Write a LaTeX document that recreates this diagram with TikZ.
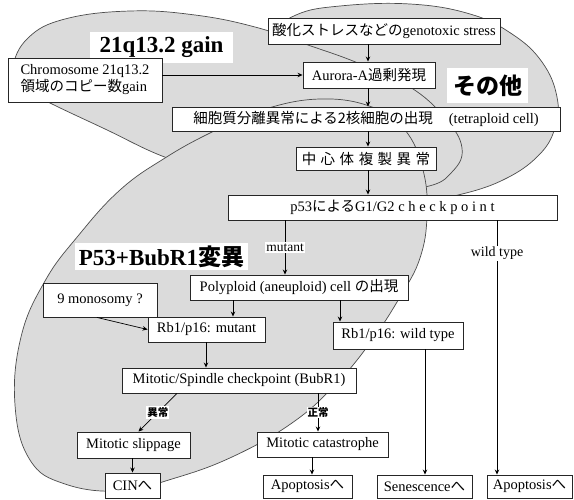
\documentclass[tikz,border=0pt]{standalone}
\usepackage{fontspec}
\setmainfont{Liberation Serif}
\newfontfamily\jp{Noto Sans CJK JP}
\usetikzlibrary{arrows.meta}
\begin{document}
\begin{tikzpicture}[x=1pt,y=-1pt,
  box/.style={draw=black!85, line width=0.9pt, fill=white, inner sep=0pt, font=\fontsize{14.5}{17}\selectfont},
  ell/.style={fill=black!14, draw=black!70, line width=0.7pt},
  arr/.style={-{Stealth[length=5pt,width=4.5pt]}, line width=0.7pt},
  lab/.style={fill=white, inner sep=1.5pt},
  big/.style={fill=white, inner sep=0pt, font=\fontsize{23}{26}\selectfont\bfseries}
]
\useasboundingbox (0,0) rectangle (574,500);
% ellipses
\filldraw[ell] plot[smooth cycle, tension=0.7] coordinates {(262,72) (272,36) (296,15) (340,6) (410,4) (470,14) (512,34) (542,62) (557,97) (555,128) (538,156) (503,180) (458,195) (420,200) (350,186) (292,140)};
\filldraw[ell] plot[smooth cycle, tension=0.7] coordinates {(13,68) (28,38) (65,19) (130,11) (195,15) (255,27) (305,44) (358,63) (410,87) (445,118) (462,148) (452,172) (425,187) (360,193) (280,183) (210,170) (162,156) (105,129) (52,104) (22,88)};
\filldraw[ell] plot[smooth cycle, tension=0.7] coordinates {(320,99) (372,107) (405,130) (423,170) (427,215) (420,258) (400,297) (370,343) (335,385) (292,423) (232,457) (172,479) (120,491) (65,484) (30,460) (15,405) (21,337) (45,281) (78,236) (120,190) (165,158) (212,132) (262,110)};
% region labels
\node[big, minimum width=143, minimum height=31] (lq) at (161.5,47.5) {21q13.2 gain};
\node[big, minimum width=81, minimum height=35] (lo) at (487.5,85.5) {\jp\bfseries その他};
\node[big, minimum width=173, minimum height=27] (lp) at (161.5,256.5) {P53+BubR1{\jp\bfseries 変異}};
% boxes
\node[box, minimum width=232, minimum height=26] (gen) at (384,31) {{\jp 酸化ストレスなどの}genotoxic stress};
\node[box, minimum width=132, minimum height=26] (aur) at (369,75) {Aurora-A{\jp 過剰発現}};
\node[box, minimum width=154, minimum height=44, align=left] (chr) at (85,80) {Chromosome 21q13.2\\{\jp 領域のコピー数}gain};
\node[box, minimum width=388, minimum height=24] (cyt) at (366,119) {{\jp 細胞質分離異常による2核細胞の出現}\hspace{16pt}(tetraploid cell)};
\node[box, minimum width=140, minimum height=23] (cen) at (366,158.5) {\jp 中\hspace{4.5pt}心\hspace{4.5pt}体\hspace{4.5pt}複\hspace{4.5pt}製\hspace{4.5pt}異\hspace{4.5pt}常};
\node[box, minimum width=329, minimum height=25] (p53) at (392.5,207.5) {p53{\jp による}G1/G2 c h e c k p o i n t};
\node[box, minimum width=218, minimum height=25] (pol) at (299,287.5) {Polyploid (aneuploid) cell {\jp の出現}};
\node[box, minimum width=114, minimum height=34] (mono) at (100,300) {9 monosomy ?};
\node[box, minimum width=117, minimum height=25] (rbm) at (206.5,329.5) {Rb1/p16: mutant};
\node[box, minimum width=130, minimum height=27] (rbw) at (398,335.5) {Rb1/p16: wild type};
\node[box, minimum width=234, minimum height=25] (bub) at (239,380.5) {Mitotic/Spindle checkpoint (BubR1)};
\node[box, minimum width=113, minimum height=26] (slip) at (133.5,445) {Mitotic slippage};
\node[box, minimum width=131, minimum height=25] (cat) at (322.5,444.5) {Mitotic catastrophe};
\node[box, minimum width=55, minimum height=25] (cin) at (132.5,485.5) {CIN{\jp へ}};
\node[box, minimum width=89, minimum height=23] (apo1) at (307.5,486.5) {Apoptosis{\jp へ}};
\node[box, minimum width=95, minimum height=23] (sen) at (424.5,486.5) {Senescence{\jp へ}};
\node[box, minimum width=85, minimum height=23] (apo2) at (529.5,486.5) {Apoptosis{\jp へ}};
% x positions of connectors
\coordinate (xa) at (368,0);
\coordinate (xm) at (285,0);
\coordinate (xw) at (497,0);
\coordinate (xpm) at (233,0);
\coordinate (xpw) at (340,0);
\coordinate (xr) at (206,0);
\coordinate (xs) at (425,0);
\coordinate (xc) at (318,0);
\coordinate (xap) at (312,0);
% connectors
\draw[arr] (xa |- gen.south) -- (xa |- aur.north);
\draw[arr] (chr.east |- aur.west) -- (aur.west);
\draw[arr] (xa |- aur.south) -- (xa |- cyt.north);
\draw[arr] (xa |- cyt.south) -- (xa |- cen.north);
\draw[arr] (xa |- cen.south) -- (xa |- p53.north);
\draw[arr] (xm |- p53.south) -- node[lab, font=\fontsize{13.5}{15}\selectfont] {mutant} (xm |- pol.north);
\draw[arr] (xw |- p53.south) -- node[lab, pos=0.13, font=\fontsize{14}{16}\selectfont] {wild type} (xw |- apo2.north);
\draw[arr] (xpm |- pol.south) -- (xpm |- rbm.north);
\draw[arr] (xpw |- pol.south) -- (xpw |- rbw.north);
\draw[arr] ([xshift=-3pt]mono.south) -- (rbm.west);
\draw[arr] (xr |- rbm.south) -- (xr |- bub.north);
\draw[arr] (xs |- rbw.south) -- (xs |- sen.north);
\draw[arr] ([xshift=-62pt]bub.south) -- node[lab, inner sep=1pt, font=\fontsize{10.5}{12}\selectfont\jp\bfseries] {異常} ([xshift=5pt]slip.north);
\draw[arr] (xc |- bub.south) -- node[lab, inner sep=1pt, font=\fontsize{10.5}{12}\selectfont\jp\bfseries] {正常} (xc |- cat.north);
\draw[arr] (cin.north |- slip.south) -- (cin.north);
\draw[arr] (xap |- cat.south) -- (xap |- apo1.north);
\end{tikzpicture}
\end{document}
